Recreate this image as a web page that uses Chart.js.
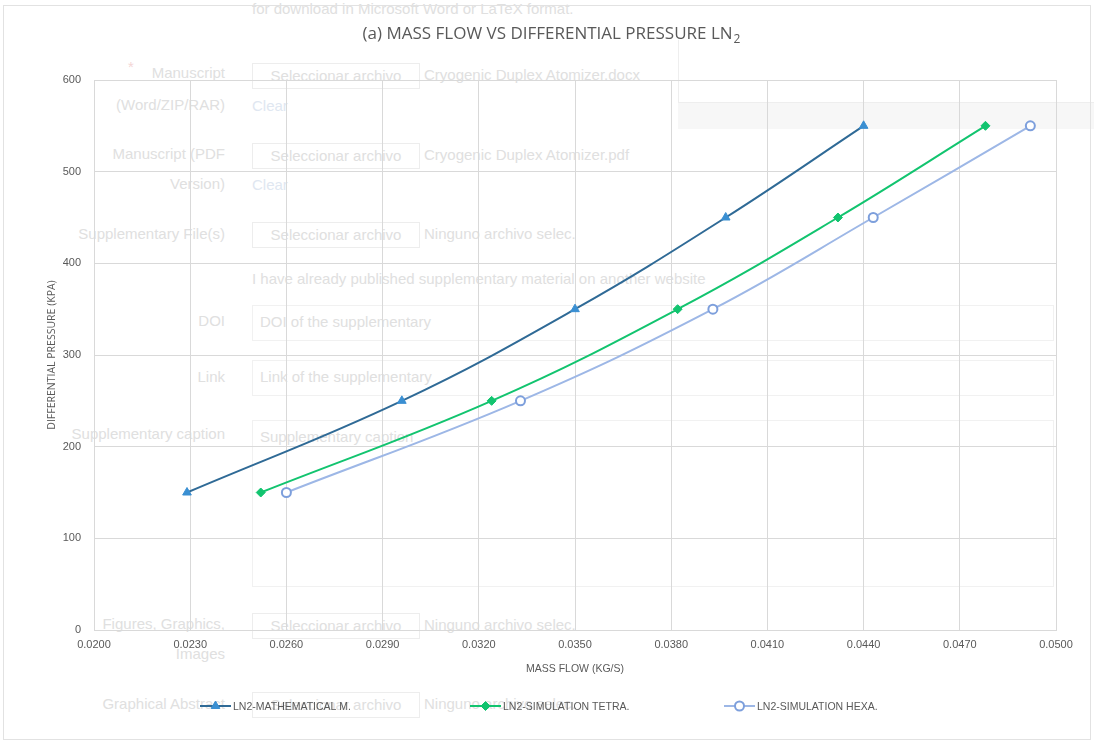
<!DOCTYPE html>
<html>
<head>
<meta charset="utf-8">
<script src="https://cdn.jsdelivr.net/npm/chart.js@4.4.1/dist/chart.umd.min.js"></script>
<style>
  html, body { margin: 0; padding: 0; background: #fff; }
  #wrap { position: relative; width: 1094px; height: 742px; overflow: hidden; font-family: 'Liberation Sans', Arial, sans-serif; }
  #ghost { position: absolute; left: 0; top: 0; width: 1094px; height: 742px; color: #e0e0e0; font-size: 15px; }
  #ghost div { position: absolute; white-space: nowrap; }
  #ghost .lbl { text-align: right; width: 200px; left: 25px; }
  #ghost .btn { border: 1px solid #ededed; height: 24px; width: 166px; left: 252px; line-height: 24px; text-align: center; }
  #ghost .box { border: 1px solid #f1f1f1; left: 252px; width: 800px; }
  #ghost .clr { color: #e0e7f1; left: 252px; }
  #frame { position: absolute; left: 3px; top: 5px; width: 1086px; height: 733px; border: 1px solid #e2e2e2; }
  #band { position: absolute; left: 678px; top: 40px; width: 420px; height: 62px; border-left: 1px solid #eeeeee; border-bottom: 1px solid #eeeeee; }
  #band2 { position: absolute; left: 678px; top: 103px; width: 420px; height: 26px; background: #f7f7f7; }
  canvas { position: absolute; left: 0; top: 0; }
</style>
</head>
<body>
<div id="wrap">
  <div id="ghost">
    <div style="left:252px;top:0px;">for download in Microsoft Word or LaTeX format.</div>
    <div id="band"></div>
    <div id="band2"></div>
    <div style="left:128px;top:58px;color:#f4d6d6;">*</div>
    <div class="lbl" style="top:64px;">Manuscript</div>
    <div class="lbl" style="top:96px;">(Word/ZIP/RAR)</div>
    <div class="btn" style="top:63px;">Seleccionar archivo</div>
    <div style="left:424px;top:66px;">Cryogenic Duplex Atomizer.docx</div>
    <div class="clr" style="top:97px;">Clear</div>
    <div class="lbl" style="top:145px;">Manuscript (PDF</div>
    <div class="lbl" style="top:175px;">Version)</div>
    <div class="btn" style="top:143px;">Seleccionar archivo</div>
    <div style="left:424px;top:146px;">Cryogenic Duplex Atomizer.pdf</div>
    <div class="clr" style="top:176px;">Clear</div>
    <div class="lbl" style="top:225px;">Supplementary File(s)</div>
    <div class="btn" style="top:222px;">Seleccionar archivo</div>
    <div style="left:424px;top:225px;">Ninguno archivo selec.</div>
    <div style="left:252px;top:270px;">I have already published supplementary material on another website</div>
    <div class="lbl" style="top:312px;">DOI</div>
    <div class="box" style="top:305px;height:34px;"></div>
    <div style="left:260px;top:313px;">DOI of the supplementary</div>
    <div class="lbl" style="top:368px;">Link</div>
    <div class="box" style="top:360px;height:34px;"></div>
    <div style="left:260px;top:368px;">Link of the supplementary</div>
    <div class="lbl" style="top:425px;">Supplementary caption</div>
    <div class="box" style="top:420px;height:165px;"></div>
    <div style="left:260px;top:428px;">Supplementary caption</div>
    <div class="lbl" style="top:615px;">Figures, Graphics,</div>
    <div class="lbl" style="top:645px;">Images</div>
    <div class="btn" style="top:613px;">Seleccionar archivo</div>
    <div style="left:424px;top:616px;">Ninguno archivo selec.</div>
    <div class="lbl" style="top:695px;">Graphical Abstract</div>
    <div class="btn" style="top:692px;">Seleccionar archivo</div>
    <div style="left:424px;top:695px;">Ninguno archivo selec.</div>
  </div>
  <div id="frame"></div>
  <canvas id="chart" width="1094" height="742"></canvas>
</div>
<script>
// ---- data ----
const pressure   = [150, 250, 350, 450, 550];              // kPa
const massMath   = [0.0229, 0.0296, 0.0350, 0.0397, 0.0440]; // kg/s
const massTetra  = [0.0252, 0.0324, 0.0382, 0.0432, 0.0478];
const massHexa   = [0.0260, 0.0333, 0.0393, 0.0443, 0.0492];
const xTicks     = [0.0200, 0.0230, 0.0260, 0.0290, 0.0320, 0.0350, 0.0380, 0.0410, 0.0440, 0.0470, 0.0500];
const yTicks     = [0, 100, 200, 300, 400, 500, 600];
const seriesNames = ['LN2-MATHEMATICAL M.', 'LN2-SIMULATION TETRA.', 'LN2-SIMULATION HEXA.'];

const GREY = '#595959';
const NARROW = "'Liberation Sans Narrow', 'Liberation Sans', sans-serif";

function pts(xs) { return xs.map((x, i) => ({ x, y: pressure[i] })); }

function legendMarker(ctx, ds, x, y) {
  ctx.fillStyle = ds.pointBackgroundColor;
  ctx.strokeStyle = ds.pointBorderColor;
  ctx.lineWidth = ds.pointBorderWidth;
  Chart.helpers.drawPoint(ctx, {
    pointStyle: ds.pointStyle, radius: ds.pointRadius, borderWidth: ds.pointBorderWidth
  }, x, y);
}

// title + legend drawn by hand (Excel style)
const decor = {
  id: 'decor',
  afterDraw(chart) {
    const ctx = chart.ctx;
    ctx.save();
    // title with subscript
    const main = '(a) MASS FLOW VS DIFFERENTIAL PRESSURE LN';
    ctx.font = "17px 'Open Sans', sans-serif";
    const w1 = ctx.measureText(main).width;
    ctx.font = "12px 'Open Sans', sans-serif";
    const w2 = ctx.measureText('2').width;
    const x0 = 551 - (w1 + w2) / 2;
    ctx.fillStyle = GREY;
    ctx.textBaseline = 'alphabetic';
    ctx.textAlign = 'left';
    ctx.font = "17px 'Open Sans', sans-serif";
    ctx.fillText(main, x0, 39);
    ctx.font = "12px 'Open Sans', sans-serif";
    ctx.fillText('2', x0 + w1 + 1, 43);

    // legend
    const slots = [200, 470, 724];
    chart.data.datasets.forEach((ds, i) => {
      const lx = slots[i], ly = 706;
      ctx.strokeStyle = ds.borderColor;
      ctx.lineWidth = 2;
      ctx.beginPath(); ctx.moveTo(lx, ly); ctx.lineTo(lx + 31, ly); ctx.stroke();
      legendMarker(ctx, ds, lx + 15.5, ly);
      ctx.fillStyle = GREY;
      ctx.font = "10.5px " + NARROW;
      ctx.textBaseline = 'middle';
      ctx.fillText(ds.label, lx + 33, ly + 1);
    });
    ctx.restore();
  }
};

new Chart(document.getElementById('chart'), {
  type: 'scatter',
  data: {
    datasets: [
      {
        label: seriesNames[0], data: pts(massMath), showLine: true, tension: 0.4,
        borderColor: '#2f6a96', borderWidth: 2,
        pointStyle: 'triangle', pointRadius: 5, pointBorderWidth: 1,
        pointBackgroundColor: '#3a8fd2', pointBorderColor: '#3a8fd2'
      },
      {
        label: seriesNames[1], data: pts(massTetra), showLine: true, tension: 0.4,
        borderColor: '#12c46f', borderWidth: 2,
        pointStyle: 'rectRot', pointRadius: 4.5, pointBorderWidth: 1,
        pointBackgroundColor: '#12c46f', pointBorderColor: '#12c46f'
      },
      {
        label: seriesNames[2], data: pts(massHexa), showLine: true, tension: 0.4,
        borderColor: '#9db7e6', borderWidth: 2,
        pointStyle: 'circle', pointRadius: 4.5, pointBorderWidth: 2,
        pointBackgroundColor: '#ffffff', pointBorderColor: '#7d9fdc'
      }
    ]
  },
  options: {
    responsive: false,
    animation: false,
    layout: { padding: { top: 80, left: 46, right: 38, bottom: 67 } },
    plugins: {
      legend: { display: false },
      title: { display: false },
      tooltip: { enabled: false }
    },
    scales: {
      x: {
        type: 'linear', min: 0.02, max: 0.05,
        afterBuildTicks: s => { s.ticks = xTicks.map(v => ({ value: v })); },
        afterFit: s => { s.height = 45; },
        grid: { color: '#d9d9d9', lineWidth: 1, drawTicks: false },
        border: { color: '#d9d9d9' },
        ticks: {
          padding: 8, color: GREY, font: { family: NARROW, size: 11 },
          maxRotation: 0, autoSkip: false,
          callback: v => v.toFixed(4)
        },
        title: {
          display: true, text: 'MASS FLOW (KG/S)', color: GREY,
          font: { family: NARROW, size: 10.5 }, padding: { top: 4, bottom: 0 }
        }
      },
      y: {
        min: 0, max: 600,
        afterBuildTicks: s => { s.ticks = yTicks.map(v => ({ value: v })); },
        afterFit: s => { s.width = 48; },
        grid: { color: '#d9d9d9', lineWidth: 1, drawTicks: false },
        border: { display: false },
        ticks: { padding: 13, color: GREY, font: { family: NARROW, size: 11 } },
        title: {
          display: true, text: 'DIFFERENTIAL PRESSURE (KPA)', color: GREY,
          font: { family: "'Open Sans', sans-serif", size: 10.5 }, padding: { top: 0, bottom: 0 }
        }
      }
    }
  },
  plugins: [decor]
});
</script>
</body>
</html>
